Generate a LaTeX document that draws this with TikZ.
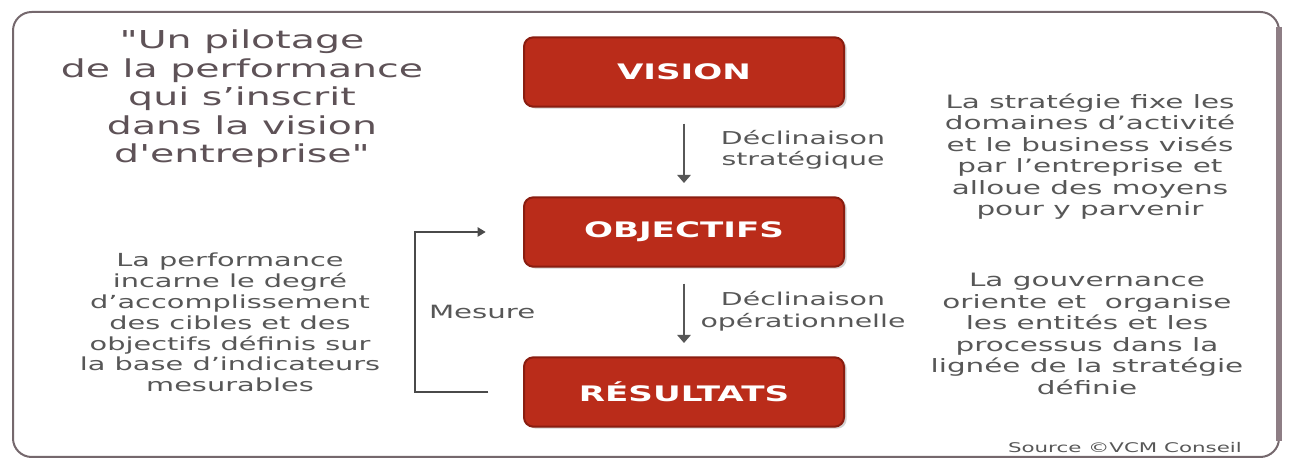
\documentclass[tikz,border=0pt]{standalone}
\usepackage{fontspec}
\setmainfont[FakeStretch=1.6]{DejaVu Sans}
\newfontfamily\citationfont[FakeStretch=1.6,Ligatures=TeXOff]{DejaVu Sans}
\usetikzlibrary{arrows.meta,shadows}

\definecolor{rougeetape}{HTML}{BA2C1A}
\definecolor{bordetape}{HTML}{8A1D10}
\definecolor{gristexte}{HTML}{575757}
\definecolor{griscitation}{HTML}{5E5257}
\definecolor{griscadre}{HTML}{75686D}
\definecolor{ombrecadre}{HTML}{8E7E85}

\tikzset{
  etape/.style={rounded corners=7pt, draw=bordetape, line width=1.5pt, fill=rougeetape,
    drop shadow={shadow xshift=2pt, shadow yshift=-1.5pt, opacity=0.35},
    minimum width=240pt, minimum height=52pt, text=white,
    font=\fontsize{16}{18}\selectfont\bfseries},
  texte/.style={text=gristexte, align=center, inner sep=0pt},
  fleche/.style={draw=gristexte, line width=1.3pt, -{Triangle[width=10pt,length=6pt]},
    shorten <=12pt, shorten >=10pt},
  retour/.style={draw=gristexte!85!black, line width=1pt, -{Triangle[width=7pt,length=6pt]}}
}

\begin{document}
\begin{tikzpicture}[x=0.75pt,y=0.75pt]
  \useasboundingbox (0,0) rectangle (1290,463);
  % cadre
  \draw[griscadre, line width=1.5pt, fill=white, rounded corners=14pt] (13,6) rectangle (1279,451);
  \draw[ombrecadre, line width=4pt] (1279,436) -- (1279,22);

  % les trois etapes
  \node[etape] (vision) at (684,391) {VISION};
  \node[etape] (objectifs) at (684,231) {OBJECTIFS};
  \node[etape] (resultats) at (684,71) {RÉSULTATS};

  \draw[fleche] (vision) -- (objectifs);
  \draw[fleche] (objectifs) -- (resultats);

  \node[texte, font=\fontsize{13.3}{16}\selectfont] (decl1) at (803,313) {Déclinaison\\stratégique};
  \node[texte, font=\fontsize{13.3}{16.5}\selectfont] (decl2) at (803,152) {Déclinaison\\opérationnelle};

  % boucle de mesure
  \coordinate (boucle) at (415,0);
  \draw[retour] ([xshift=-26pt]resultats.west) -| (boucle |- objectifs)
    node[pos=0.75, right=10pt, texte, font=\fontsize{13.7}{16}\selectfont] (mesure) {Mesure}
    -- ([xshift=-28pt]objectifs.west);

  % textes
  \node[texte, text=griscitation, font=\citationfont\fontsize{18.5}{21.4}\selectfont] (citation) at (242,364)
    {"Un pilotage\\de la performance\\qui s’inscrit\\dans la vision\\d'entreprise"};
  \node[texte, font=\fontsize{13.5}{15.6}\selectfont] (performance) at (230,140.5)
    {La performance\\incarne le degré\\d'accomplissement\\des cibles et des\\objectifs définis sur\\la base d'indicateurs\\mesurables};
  \node[texte, font=\fontsize{13.8}{16.1}\selectfont] (strategie) at (1090,306.5)
    {La stratégie fixe les\\domaines d'activité\\et le business visés\\par l'entreprise et\\alloue des moyens\\pour y parvenir};
  \node[texte, font=\fontsize{13.8}{16.1}\selectfont] (gouvernance) at (1087,129)
    {La gouvernance\\oriente et \ organise\\les entités et les\\processus dans la\\lignée de la stratégie\\définie};
  \node[texte, anchor=east, font=\fontsize{10}{12}\selectfont] (source) at (1242,15) {Source ©VCM Conseil};
\end{tikzpicture}
\end{document}
